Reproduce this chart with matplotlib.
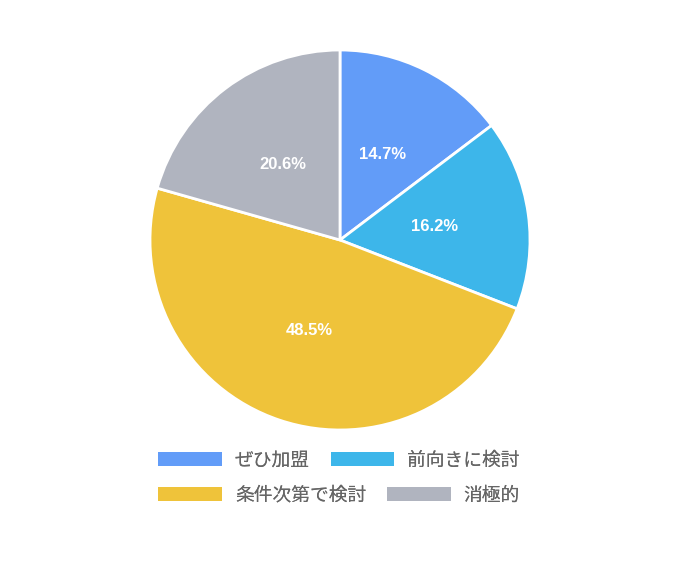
import matplotlib
matplotlib.use('Agg')
import matplotlib.pyplot as plt
from matplotlib.patches import Patch

# answers (share %)
labels = ['ぜひ加盟', '前向きに検討', '条件次第で検討', '消極的']
values = [14.7, 16.2, 48.5, 20.6]
colors = ['#629cf8', '#3db6ea', '#efc33a', '#b0b4bf']

plt.rcParams['font.family'] = ['Noto Sans CJK JP', 'DejaVu Sans']

fig = plt.figure(figsize=(6.85, 5.78), dpi=100)
# pie centred at (340, 240) px, radius 190 px
ax = fig.add_axes([150 / 685, 1 - 430 / 578, 380 / 685, 380 / 578])

wedges, texts = ax.pie(values, colors=colors, startangle=90, counterclock=False,
                       labels=[f'{v:.1f}%' for v in values], labeldistance=0.5,
                       wedgeprops=dict(edgecolor='white', linewidth=2),
                       textprops=dict(color='white', fontsize=12, fontweight='bold',
                                      family=['Liberation Sans', 'DejaVu Sans']))
for t in texts:
    t.set_horizontalalignment('center')
    t.set_verticalalignment('center')
ax.set_xlim(-1, 1)
ax.set_ylim(-1, 1)
ax.set_aspect('equal')

# legend rows are centred on their own, like the original
handles = [Patch(facecolor=c, edgecolor='none') for c in colors]
rows = [(0, 1, 460), (2, 3, 495)]
for i, j, y in rows:
    leg = fig.legend([handles[i], handles[j]], [labels[i], labels[j]], ncol=2,
                     loc='center', bbox_to_anchor=(339 / 685, 1 - y / 578),
                     frameon=False, fontsize=13.5, labelcolor='#666666',
                     handlelength=3.4, handleheight=0.75, handletextpad=0.7,
                     columnspacing=1.1, borderpad=0, borderaxespad=0)
    fig.add_artist(leg)

fig.savefig('out.png', dpi=100)
